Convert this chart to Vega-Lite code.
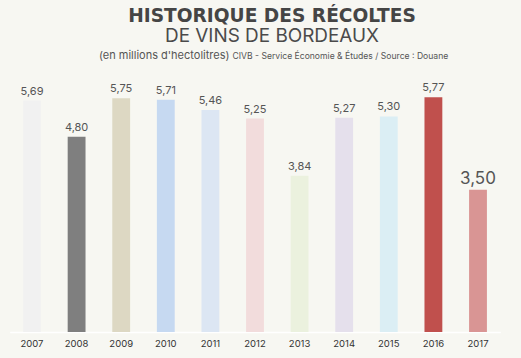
{
  "$schema": "https://vega.github.io/schema/vega-lite/v6.json",
  "width": 490.6,
  "height": 244,
  "autosize": "none",
  "padding": {"left": 9.7, "top": 88, "right": 20.7, "bottom": 26},
  "background": "#f7f7f2",
  "config": {
    "view": {"stroke": null},
    "font": "Inter",
    "locale": {"number": {"decimal": ",", "thousands": " ", "grouping": [3], "currency": ["", " €"]}}
  },
  "title": {
    "text": "HISTORIQUE DES RÉCOLTES",
    "subtitle": "DE VINS DE BORDEAUX",
    "frame": "group",
    "anchor": "middle",
    "dx": 17,
    "offset": 3,
    "font": "DejaVu Sans",
    "fontSize": 18.6,
    "fontWeight": "bold",
    "color": "#454545",
    "subtitleFont": "Inter",
    "subtitleFontSize": 18.9,
    "subtitleFontWeight": 400,
    "subtitleColor": "#4a4a4a",
    "subtitlePadding": 2
  },
  "data": {
    "values": [
      {"year": "2007", "value": 5.69},
      {"year": "2008", "value": 4.80},
      {"year": "2009", "value": 5.75},
      {"year": "2010", "value": 5.71},
      {"year": "2011", "value": 5.46},
      {"year": "2012", "value": 5.25},
      {"year": "2013", "value": 3.84},
      {"year": "2014", "value": 5.27},
      {"year": "2015", "value": 5.30},
      {"year": "2016", "value": 5.77},
      {"year": "2017", "value": 3.50}
    ]
  },
  "encoding": {
    "x": {
      "field": "year",
      "type": "nominal",
      "sort": null,
      "scale": {"paddingInner": 0.6, "paddingOuter": 0.3},
      "axis": {
        "labelAngle": 0,
        "labelFontSize": 9.5,
        "labelColor": "#333333",
        "labelPadding": 6,
        "ticks": false,
        "domain": true,
        "domainColor": "#ffffff",
        "domainWidth": 1.5,
        "title": "(en millions d'hectolitres)",
        "titleFontSize": 11,
        "titleFontWeight": 400,
        "titleColor": "#555555",
        "titleAlign": "right",
        "titleAnchor": null,
        "titleBaseline": "alphabetic",
        "titleX": 219.3,
        "titleY": -274
      }
    },
    "y": {
      "field": "value",
      "type": "quantitative",
      "scale": {"domain": [0, 6]},
      "axis": {
        "labels": false,
        "ticks": false,
        "domain": false,
        "grid": false,
        "title": "CIVB - Service Économie & Études / Source : Douane",
        "titleAngle": 0,
        "titleAlign": "left",
        "titleBaseline": "alphabetic",
        "titleFontSize": 8.6,
        "titleFontWeight": 400,
        "titleColor": "#555555",
        "titleX": 222.3,
        "titleY": -30
      }
    }
  },
  "layer": [
    {
      "mark": {"type": "bar"},
      "encoding": {
        "color": {
          "field": "year",
          "type": "nominal",
          "sort": null,
          "legend": null,
          "scale": {
            "domain": ["2007", "2008", "2009", "2010", "2011", "2012", "2013", "2014", "2015", "2016", "2017"],
            "range": ["#f1f1f1", "#7f7f7f", "#ddd8c3", "#c6d9f1", "#dce6f3", "#f2dcdc", "#ebf1de", "#e5e0ec", "#dbeef4", "#c0504d", "#d99594"]
          }
        }
      }
    },
    {
      "mark": {"type": "text", "baseline": "alphabetic", "dy": -6, "color": "#555555", "font": "Inter"},
      "encoding": {
        "text": {"field": "value", "type": "quantitative", "format": ".2f"},
        "size": {
          "condition": {"test": "datum.year === '2017'", "value": 17},
          "value": 11
        }
      }
    }
  ]
}
